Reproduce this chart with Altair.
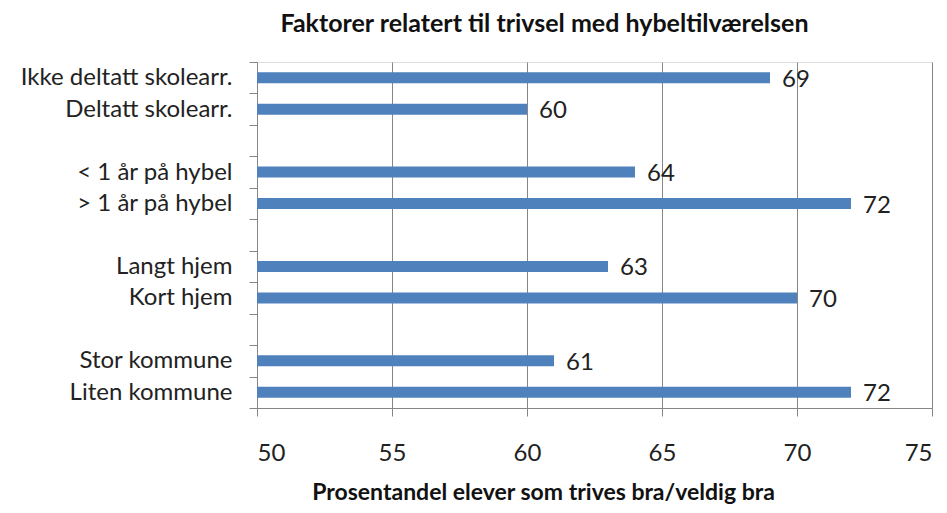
import altair as alt
import pandas as pd

categories = ["Ikke deltatt skolearr.", "Deltatt skolearr.", " ",
              "< 1 år på hybel", "> 1 år på hybel", "  ",
              "Langt hjem", "Kort hjem", "   ",
              "Stor kommune", "Liten kommune"]
values = [69, 60, None, 64, 72, None, 63, 70, None, 61, 72]

df = pd.DataFrame({"cat": categories, "val": values})
bars_df = df.dropna()

FONT = "Lato"
GRAY = "#868686"

y_scale = alt.Scale(domain=categories, paddingInner=0, paddingOuter=0)

y_enc = alt.Y("cat:N", sort=categories, title=None, scale=y_scale,
              axis=alt.Axis(tickBand="extent", tickSize=8, tickColor=GRAY,
                            domainColor=GRAY, labelFont=FONT, labelFontSize=24,
                            labelColor="#222222", labelPadding=17, labelLimit=0,
                            grid=False))

x_enc = alt.X("val:Q", title="Prosentandel elever som trives bra/veldig bra",
              scale=alt.Scale(domain=[50, 75], zero=False, nice=False),
              axis=alt.Axis(values=[50, 55, 60, 65, 70, 75], grid=True,
                            gridColor=GRAY, gridOpacity=1, tickSize=8,
                            tickColor=GRAY, domainColor=GRAY,
                            labelFont=FONT, labelFontSize=24, labelColor="#222222",
                            labelPadding=25, titleFont=FONT, titleFontSize=23,
                            titleFontWeight="bold", titleColor="#111111",
                            titleX=286, titleY=84, titleBaseline="middle"))

bars = alt.Chart(bars_df).mark_bar(color="#4F81BD", size=11).encode(
    y=y_enc, x=x_enc, x2=alt.datum(50))

labels = alt.Chart(bars_df).mark_text(align="left", baseline="middle", dx=12, dy=2,
                                      font=FONT, fontSize=24, color="#222222").encode(
    y=alt.Y("cat:N", sort=categories, scale=y_scale), x=alt.X("val:Q"),
    text=alt.Text("val:Q"))

chart = alt.layer(bars, labels).properties(
    width=675, height=346,
    autosize=alt.AutoSizeParams(type="none"),
    padding={"left": 249, "top": 54, "right": 7, "bottom": 97},
    title=alt.TitleParams("Faktorer relatert til trivsel med hybeltilværelsen",
                          font=FONT, fontSize=25, fontWeight="bold", color="#111111",
                          anchor="middle", dx=-50, offset=13),
).configure_view(stroke=None).configure(background="white")

chart.save("out.html", embed_options={"renderer": "svg", "actions": False})
